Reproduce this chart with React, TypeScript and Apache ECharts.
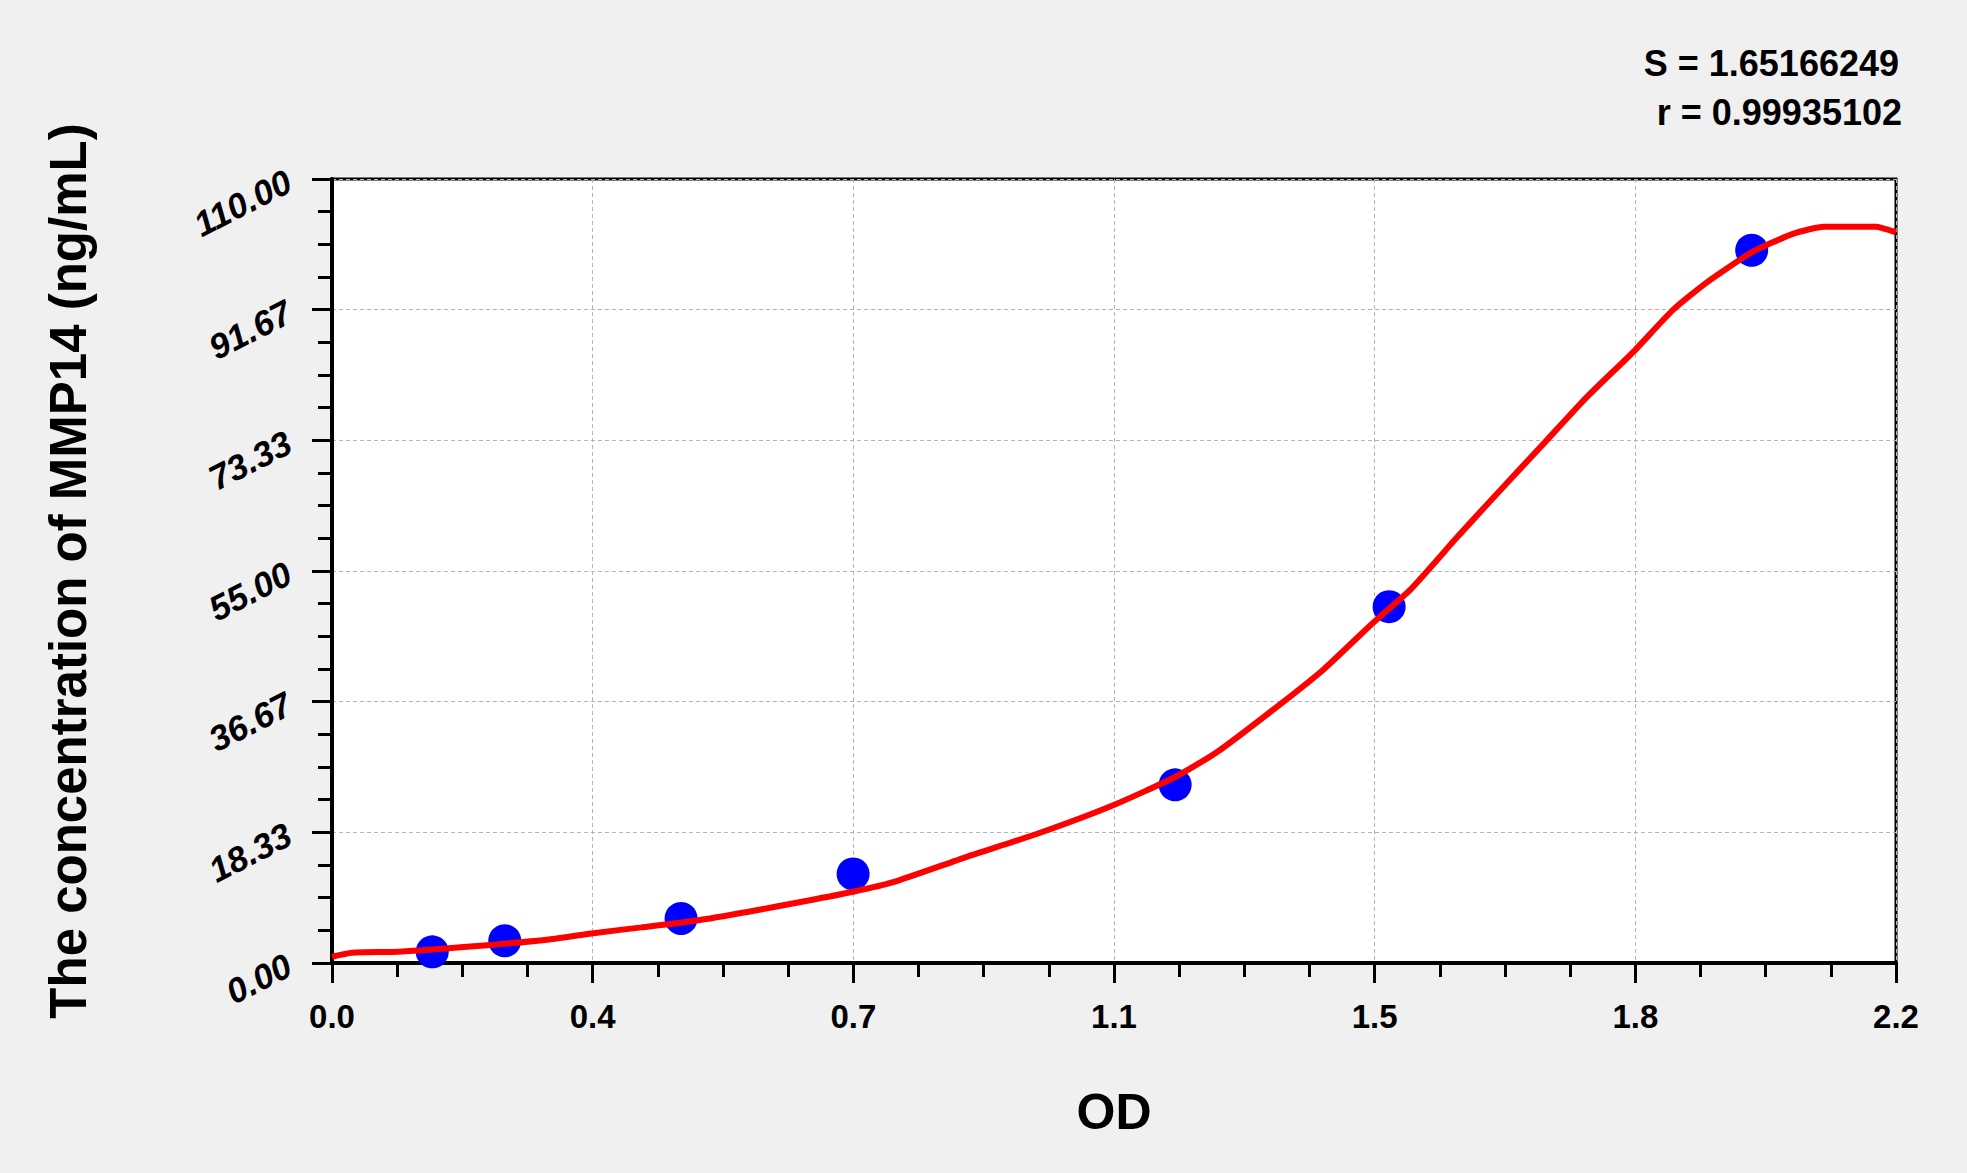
import React, { useEffect, useRef } from "react";
import * as echarts from "echarts";

// standard points (OD vs concentration)
const stdOD = [0.141, 0.243, 0.491, 0.733, 1.186, 1.487, 1.997];
const stdConc = [1.563, 3.125, 6.25, 12.5, 25, 50, 100];

// fitted curve
const curveOD = [
  0, 0.028, 0.094, 0.209, 0.305, 0.365, 0.435, 0.511, 0.586, 0.661, 0.733,
  0.788, 0.893, 0.994, 1.098, 1.186, 1.245, 1.335, 1.396, 1.463, 1.518, 1.585,
  1.643, 1.706, 1.765, 1.832, 1.886, 1.934, 1.997, 2.055, 2.099, 2.171, 2.2,
];
const curveConc = [
  0.88, 1.45, 1.59, 2.43, 3.31, 4.15, 5.0, 5.94, 7.2, 8.6, 10.0, 11.3, 14.9,
  18.2, 22.1, 26.1, 29.6, 36.4, 41.3, 47.6, 52.5, 60.0, 66.3, 73.05, 79.4,
  85.9, 91.6, 95.5, 99.7, 102.3, 103.3, 103.3, 102.5,
];

const xMax = 2.2;
const yMax = 110;
const tickCount = 6;

const fitText = ["S = 1.65166249", "r = 0.99935102"];

const font = 'Arial, "Liberation Sans", sans-serif';

const App: React.FC = () => {
  const chartRef = useRef<HTMLDivElement>(null);

  useEffect(() => {
    if (!chartRef.current) return;
    const chart = echarts.init(chartRef.current, undefined, { renderer: "svg" });

    const axisCommon = {
      type: "value" as const,
      min: 0,
      axisLine: { show: true, lineStyle: { color: "#000", width: 4 } },
      axisTick: { show: true, length: 20, lineStyle: { color: "#000", width: 3 } },
      minorTick: { show: true, splitNumber: 4, length: 14, lineStyle: { color: "#000", width: 3 } },
      splitLine: { show: true, lineStyle: { color: "#b4b4b4", width: 1, type: [4, 3] } },
      nameLocation: "middle" as const,
      nameTextStyle: { color: "#000", fontWeight: "bold", fontFamily: font },
    };

    const option: echarts.EChartsOption = {
      animation: false,
      backgroundColor: "#f0f0f0",
      textStyle: { fontFamily: font },
      grid: {
        left: 332,
        top: 179,
        right: 71,
        bottom: 210,
        show: true,
        backgroundColor: "#ffffff",
        borderColor: "#000",
        borderWidth: 3,
        containLabel: false,
        outerBoundsMode: "none",
      } as any,
      graphic: fitText.map((t, i) => ({
        type: "text",
        right: 68 - i * 3,
        top: 45 + i * 49,
        style: {
          text: t,
          fill: "#000",
          font: `bold 36px ${font}`,
          textAlign: "right",
        },
      })),
      xAxis: {
        ...axisCommon,
        max: xMax,
        interval: xMax / tickCount,
        name: "OD",
        nameGap: 124,
        nameTextStyle: { ...axisCommon.nameTextStyle, fontSize: 50 },
        axisLabel: {
          color: "#000",
          fontWeight: "bold",
          fontSize: 33,
          margin: 37,
          formatter: (v: number) =>
            v !== xMax && Math.abs(v - xMax) < 1e-6 ? "" : v.toFixed(1),
        },
      },
      yAxis: {
        ...axisCommon,
        max: yMax,
        interval: yMax / tickCount,
        name: "The concentration of MMP14 (ng/mL)",
        nameGap: 238,
        nameTextStyle: { ...axisCommon.nameTextStyle, fontSize: 51 },
        axisLabel: {
          color: "#000",
          fontWeight: "bold",
          fontStyle: "italic",
          fontSize: 35,
          rotate: 27,
          margin: 43,
          formatter: (v: number) =>
            v !== yMax && Math.abs(v - yMax) < 1e-6 ? "" : v.toFixed(2),
        },
      },
      series: [
        {
          type: "scatter",
          data: stdOD.map((x, i) => [x, stdConc[i]]),
          symbolSize: 33,
          itemStyle: { color: "#0000ff", opacity: 1 },
          z: 2,
        },
        {
          type: "line",
          data: curveOD.map((x, i) => [x, curveConc[i]]),
          showSymbol: false,
          smooth: 0.2,
          lineStyle: { color: "#ff0000", width: 6 },
          z: 3,
        },
      ],
    };

    chart.setOption(option);
    return () => {
      chart.dispose();
    };
  }, []);

  return (
    <div
      ref={chartRef}
      style={{ position: "absolute", left: 0, top: 0, width: "1967px", height: "1173px" }}
    />
  );
};

export default App;
